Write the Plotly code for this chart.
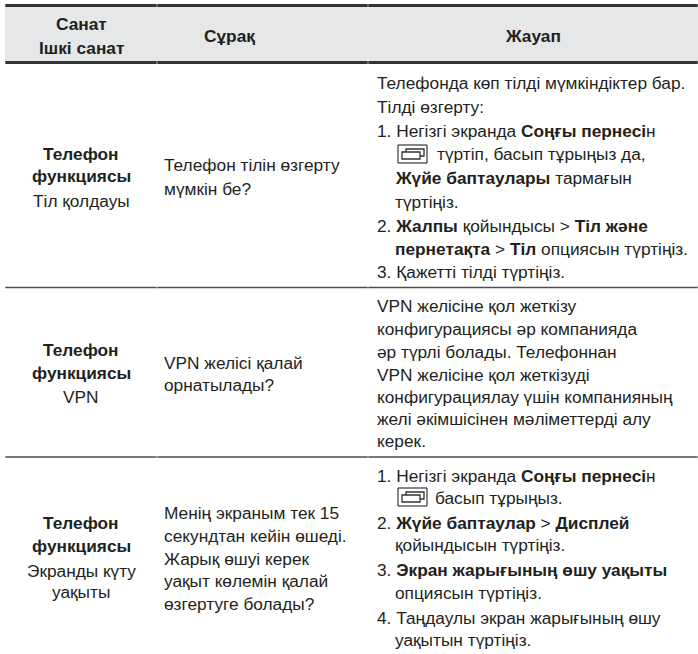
import plotly.graph_objects as go

W, H = 698, 654
FONT = "Liberation Sans"
SIZE = 17.3
INK = "#231f20"
K = 5.5  # baseline to box-middle offset
PAD = 2  # annotation box padding

header_cat = ["<b>Санат</b>", "<b>Ішкі санат</b>"]
header_q = ["<b>Сұрақ</b>"]
header_a = ["<b>Жауап</b>"]

cat_1 = ["<b>Телефон</b>", "<b>функциясы</b>", "Тіл қолдауы"]
cat_2 = ["<b>Телефон</b>", "<b>функциясы</b>", "VPN"]
cat_3 = ["<b>Телефон</b>", "<b>функциясы</b>", "Экранды күту", "уақыты"]

q_1 = ["Телефон тілін өзгерту", "мүмкін бе?"]
q_2 = ["VPN желісі қалай", "орнатылады?"]
q_3 = ["Менің экраным тек 15", "секундтан кейін өшеді.", "Жарық өшуі керек", "уақыт көлемін қалай", "өзгертуге болады?"]

a_1 = ["Телефонда көп тілді мүмкіндіктер бар.", "Тілді өзгерту:",
       "1. Негізгі экранда <b>Соңғы пернесі</b>н", "түртіп, басып тұрыңыз да,",
       "<b>Жүйе баптаулары</b> тармағын", "түртіңіз.",
       "2. <b>Жалпы</b> қойындысы &gt; <b>Тіл және</b>",
       "<b>пернетақта</b> &gt; <b>Тіл</b> опциясын түртіңіз.",
       "3. Қажетті тілді түртіңіз."]
a_2 = ["VPN желісіне қол жеткізу", "конфигурациясы әр компанияда",
       "әр түрлі болады. Телефоннан", "VPN желісіне қол жеткізуді",
       "конфигурациялау үшін компанияның", "желі әкімшісінен мәліметтерді алу",
       "керек."]
a_3 = ["1. Негізгі экранда <b>Соңғы пернесі</b>н", "басып тұрыңыз.",
       "2. <b>Жүйе баптаулар</b> &gt; <b>Дисплей</b>", "қойындысын түртіңіз.",
       "3. <b>Экран жарығының өшу уақыты</b>", "опциясын түртіңіз.",
       "4. Таңдаулы экран жарығының өшу", "уақытын түртіңіз."]

# layout: baselines and line starts
X_CAT, X_Q, X_A, X_HQ, X_HA = 81, 164, 377, 229, 533
COLS = [5, 157, 368, 698]
a_1_x = [377, 377, 377, 437, 395, 395, 377, 395, 377]
a_2_x = [377] * 7
a_3_x = [377, 435, 377, 395, 377, 395, 377, 395]
h_base = [29.3, 53.3]
c1_base = [159.3, 181.7, 206.7]
c2_base = [355, 378.3, 402.7]
c3_base = [528, 551, 576.7, 597]
q1_base = [170.7, 194]
q2_base = [368.3, 390.7]
q3_base = [518, 541, 564, 586.7, 609]
a1_base = [88, 112, 136, 159.5, 183, 207, 231, 254, 277]
a2_base = [311.7, 334, 357, 380.5, 402, 424, 446.7]
a3_base = [481, 503.5, 528, 550.7, 575.7, 598, 623, 645.7]

fig = go.Figure()
ann = []


def put(x, base, text, anchor="left"):
    ann.append(dict(x=x - PAD if anchor == "left" else x, y=base - K, text=text,
                    xref="x", yref="y", showarrow=False,
                    xanchor=anchor, yanchor="middle", align=anchor,
                    font=dict(family=FONT, size=SIZE, color=INK)))


def column(lines, xs, bases, anchor="left"):
    for t, x, b in zip(lines, xs, bases):
        put(x, b, t, anchor)


column(header_cat, [X_CAT] * 2, h_base, "center")
column(header_q, [X_HQ], [41], "center")
column(header_a, [X_HA], [41], "center")
column(cat_1, [X_CAT] * 3, c1_base, "center")
column(cat_2, [X_CAT] * 3, c2_base, "center")
column(cat_3, [X_CAT] * 4, c3_base, "center")
column(q_1, [X_Q] * 2, q1_base)
column(q_2, [X_Q] * 2, q2_base)
column(q_3, [X_Q] * 5, q3_base)
column(a_1, a_1_x, a1_base)
column(a_2, a_2_x, a2_base)
column(a_3, a_3_x, a3_base)

shapes = [dict(type="rect", x0=5, x1=698, y0=5, y1=63, xref="x", yref="y",
               fillcolor="#e6e7e8", line=dict(width=0), layer="below")]
for y, w, c in [(5.5, 3, "#333335"), (62.5, 3, "#333335"), (287.5, 1.6, "#4d4d4f"), (457, 1.6, "#4d4d4f")]:
    for a, b in zip(COLS[:-1], COLS[1:]):
        shapes.append(dict(type="line", x0=a + 0.3, x1=b - 0.3, y0=y, y1=y, xref="x", yref="y",
                           line=dict(color=c, width=w)))


def icon(x, y):
    shapes.append(dict(type="rect", x0=x, x1=x + 29, y0=y, y1=y + 18, xref="x", yref="y",
                       line=dict(color="#111", width=1), fillcolor="white"))
    shapes.append(dict(type="rect", x0=x + 8, x1=x + 26, y0=y + 4, y1=y + 11, xref="x", yref="y",
                       line=dict(color="#333", width=1.3), fillcolor="white"))
    shapes.append(dict(type="rect", x0=x + 4, x1=x + 22, y0=y + 7, y1=y + 14, xref="x", yref="y",
                       line=dict(color="#333", width=1.3), fillcolor="white"))


icon(398, 145)
icon(398, 488)

fig.update_layout(width=W, height=H, margin=dict(l=0, r=0, t=0, b=0),
                  paper_bgcolor="white", plot_bgcolor="white", showlegend=False,
                  xaxis=dict(range=[0, W], visible=False, fixedrange=True),
                  yaxis=dict(range=[H, 0], visible=False, fixedrange=True),
                  annotations=ann, shapes=shapes)
fig.write_html("out.html", config={"displayModeBar": False},
               post_script="document.body.style.margin='0';document.documentElement.style.overflow='hidden';")
